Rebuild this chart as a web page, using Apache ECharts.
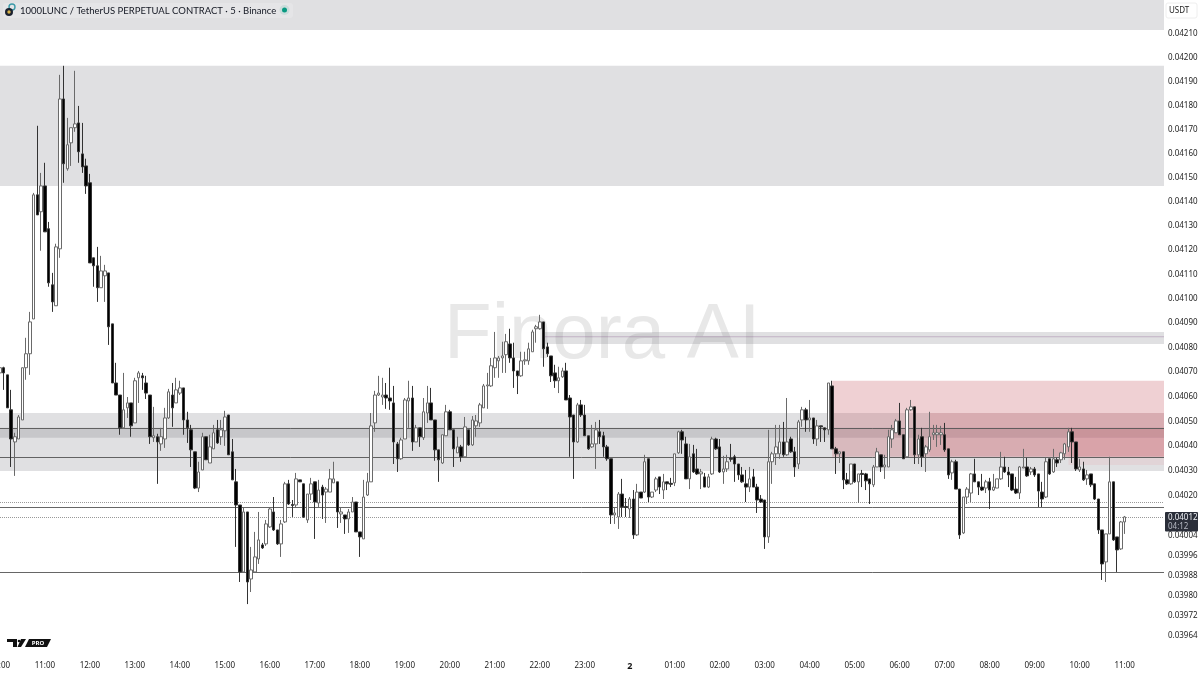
<!DOCTYPE html>
<html><head><meta charset="utf-8"><style>html,body{margin:0;background:#fff;overflow:hidden}#c{width:1200px;height:675px}</style>
<script src="https://cdn.jsdelivr.net/npm/echarts@6/dist/echarts.min.js"></script></head><body><div id="c"></div><script>
// Each candle: [open, close, low, high]
const h10=[[.040697,.040718,.040697,.040722],[.040718,.040697,.040628,.040722],[.040689,.040555,.040555,.040689],[.040547,.040429,.040316,.040628],[.040417,.040438,.040280,.040454],[.040429,.040518,.040429,.040526],[.040506,.040718,.040506,.040718],[.040718,.040775,.040669,.040840],[.040775,.040905,.040689,.040946],[.040917,.041428,.040917,.041436],[.041428,.041345,.041345,.041715],[.041358,.041465,.041197,.041519]];
const h11=[[.041465,.041275,.041275,.041561],[.041288,.041065,.041049,.041316],[.041057,.040987,.040946,.041106],[.040971,.041213,.040971,.041226],[.041205,.041827,.041168,.041928],[.041827,.041557,.041478,.041966],[.041536,.041636,.041528,.041748],[.041644,.041707,.041548,.041707],[.041707,.041723,.041690,.041945],[.041727,.041607,.041561,.041798],[.041598,.041544,.041519,.041727],[.041548,.041465,.041432,.041578]];
const h12=[[.041478,.041147,.041147,.041515],[.041168,.041135,.041049,.041168],[.041135,.041045,.040987,.041213],[.041045,.041114,.041045,.041176],[.041094,.041114,.040987,.041139],[.041106,.040885,.040811,.041106],[.040897,.040656,.040656,.040897],[.040656,.040607,.040607,.040738],[.040607,.040474,.040446,.040607],[.040474,.040547,.040470,.040697],[.040555,.040575,.040514,.040599],[.040575,.040482,.040438,.040575]];
const h13=[[.040494,.040665,.040494,.040677],[.040677,.040697,.040575,.040705],[.040685,.040677,.040628,.040697],[.040656,.040615,.040591,.040685],[.040607,.040438,.040409,.040607],[.040434,.040442,.040417,.040559],[.040438,.040417,.040248,.040450],[.040409,.040438,.040381,.040474],[.040429,.040514,.040393,.040555],[.040514,.040620,.040510,.040632],[.040607,.040555,.040478,.040656],[.040575,.040628,.040575,.040677]];
const h14=[[.040615,.040636,.040607,.040665],[.040636,.040506,.040446,.040636],[.040506,.040474,.040413,.040539],[.040466,.040385,.040316,.040486],[.040377,.040231,.040227,.040377],[.040231,.040296,.040215,.040337],[.040304,.040438,.040304,.040454],[.040438,.040345,.040345,.040438],[.040332,.040397,.040332,.040446],[.040389,.040454,.040389,.040486],[.040466,.040413,.040409,.040506],[.040438,.040466,.040405,.040506]];
const h15=[[.040462,.040518,.040401,.040543],[.040526,.040365,.040365,.040526],[.040377,.040264,.040264,.040429],[.040256,.040163,.039995,.040308],[.040163,.039895,.039855,.040163],[.039895,.040135,.039895,.040151],[.040135,.039855,.039767,.040135],[.039867,.039903,.039815,.039995],[.039895,.039955,.039895,.040055],[.039947,.040023,.039927,.040135],[.040003,.039991,.039987,.040011],[.040007,.040087,.039999,.040103]];
const h16=[[.040075,.040147,.040071,.040151],[.040135,.040063,.040059,.040195],[.040063,.040007,.040003,.040063],[.040007,.040087,.039955,.040103],[.040095,.040248,.040091,.040256],[.040248,.040167,.040163,.040264],[.040165,.040161,.040115,.040183],[.040163,.040268,.040155,.040292],[.040264,.040256,.040256,.040264],[.040248,.040115,.040111,.040248],[.040103,.040207,.040091,.040207],[.040207,.040248,.040183,.040272]];
const h17=[[.040256,.040175,.040027,.040256],[.040171,.040223,.040155,.040264],[.040235,.040203,.040107,.040244],[.040215,.040227,.040091,.040235],[.040215,.040268,.040215,.040308],[.040252,.040268,.040252,.040337],[.040256,.040135,.040071,.040256],[.040127,.040135,.040091,.040155],[.040123,.040107,.040047,.040123],[.040107,.040135,.040051,.040147],[.040135,.040175,.040135,.040195],[.040175,.040055,.040055,.040175]];
const h18=[[.040055,.040035,.039955,.040055],[.040027,.040195,.040027,.040264],[.040203,.040256,.040199,.040292],[.040256,.040482,.040256,.040534],[.040494,.040607,.040458,.040624],[.040607,.040615,.040603,.040685],[.040599,.040607,.040567,.040677],[.040607,.040595,.040551,.040656],[.040595,.040583,.040547,.040718],[.040575,.040417,.040328,.040644],[.040409,.040349,.040296,.040417],[.040349,.040425,.040345,.040434]];
const h19=[[.040429,.040587,.040429,.040595],[.040583,.040595,.040474,.040665],[.040595,.040417,.040381,.040644],[.040417,.040474,.040417,.040486],[.040474,.040438,.040397,.040474],[.040434,.040539,.040425,.040595],[.040534,.040575,.040494,.040644],[.040575,.040506,.040506,.040636],[.040506,.040385,.040341,.040506],[.040385,.040345,.040256,.040385],[.040332,.040446,.040328,.040446],[.040442,.040539,.040442,.040567]];
const h20=[[.040539,.040466,.040466,.040547],[.040466,.040389,.040316,.040466],[.040373,.040397,.040373,.040438],[.040397,.040357,.040337,.040405],[.040357,.040478,.040357,.040518],[.040466,.040405,.040401,.040466],[.040405,.040506,.040401,.040522],[.040482,.040502,.040438,.040526],[.040494,.040567,.040478,.040575],[.040555,.040644,.040555,.040652],[.040644,.040648,.040551,.040697],[.040644,.040726,.040640,.040758]];
const h21=[[.040718,.040758,.040677,.040864],[.040746,.040758,.040677,.040766],[.040758,.040766,.040697,.040824],[.040771,.040824,.040697,.040856],[.040815,.040758,.040738,.040877],[.040758,.040705,.040636,.040820],[.040705,.040685,.040611,.040705],[.040685,.040746,.040681,.040783],[.040746,.040750,.040730,.040783],[.040746,.040795,.040730,.040820],[.040783,.040864,.040783,.040873],[.040877,.040885,.040820,.040893]];
const h22=[[.040877,.040905,.040873,.040934],[.040905,.040795,.040722,.040905],[.040803,.040775,.040762,.040820],[.040766,.040685,.040660,.040766],[.040697,.040665,.040636,.040730],[.040665,.040677,.040615,.040722],[.040681,.040705,.040677,.040718],[.040705,.040587,.040587,.040738],[.040595,.040518,.040357,.040607],[.040526,.040417,.040268,.040526],[.040417,.040567,.040413,.040575],[.040567,.040526,.040518,.040587]];
const h23=[[.040526,.040442,.040442,.040567],[.040442,.040389,.040385,.040442],[.040397,.040409,.040393,.040486],[.040409,.040466,.040308,.040498],[.040458,.040438,.040409,.040506],[.040442,.040397,.040357,.040458],[.040397,.040349,.040341,.040405],[.040349,.040123,.040087,.040349],[.040123,.040131,.040087,.040155],[.040115,.040207,.040067,.040215],[.040207,.040155,.040115,.040268],[.040157,.040153,.040115,.040191]];
const h00=[[.040147,.040187,.040111,.040195],[.040187,.040043,.040027,.040223],[.040043,.040215,.040039,.040248],[.040215,.040191,.040191,.040215],[.040215,.040337,.040211,.040365],[.040349,.040195,.040175,.040349],[.040195,.040215,.040191,.040215],[.040223,.040268,.040215,.040276],[.040276,.040235,.040207,.040276],[.040223,.040256,.040187,.040288],[.040256,.040248,.040223,.040256],[.040250,.040246,.040235,.040272]];
const h01=[[.040252,.040369,.040239,.040369],[.040373,.040458,.040369,.040462],[.040458,.040425,.040369,.040466],[.040409,.040268,.040268,.040438],[.040268,.040357,.040227,.040409],[.040369,.040296,.040292,.040405],[.040308,.040288,.040284,.040389],[.040288,.040296,.040227,.040308],[.040276,.040235,.040235,.040292],[.040235,.040276,.040231,.040288],[.040288,.040429,.040284,.040438],[.040429,.040389,.040385,.040434]];
const h02=[[.040397,.040296,.040292,.040429],[.040296,.040308,.040248,.040361],[.040308,.040337,.040296,.040365],[.040351,.040347,.040337,.040409],[.040357,.040328,.040256,.040365],[.040328,.040284,.040264,.040328],[.040284,.040256,.040252,.040316],[.040248,.040235,.040175,.040304],[.040235,.040268,.040215,.040316],[.040276,.040235,.040235,.040308],[.040235,.040183,.040131,.040248],[.040187,.040175,.040171,.040203]];
const h03=[[.040183,.040035,.039987,.040183],[.040035,.040337,.040011,.040466],[.040337,.040369,.040248,.040377],[.040369,.040397,.040324,.040486],[.040369,.040417,.040349,.040486],[.040417,.040365,.040357,.040498],[.040365,.040417,.040361,.040595],[.040429,.040377,.040373,.040438],[.040377,.040316,.040276,.040397],[.040328,.040498,.040308,.040506],[.040506,.040547,.040478,.040559],[.040547,.040506,.040458,.040555]];
const h04=[[.040506,.040514,.040458,.040587],[.040514,.040429,.040409,.040514],[.040429,.040482,.040401,.040506],[.040482,.040478,.040417,.040482],[.040474,.040466,.040417,.040474],[.040466,.040656,.040446,.040656],[.040644,.040389,.040389,.040665],[.040389,.040369,.040288,.040397],[.040369,.040377,.040332,.040377],[.040377,.040264,.040227,.040377],[.040264,.040248,.040244,.040292],[.040248,.040328,.040244,.040328]];
const h05=[[.040328,.040256,.040252,.040328],[.040256,.040288,.040171,.040288],[.040290,.040286,.040235,.040304],[.040288,.040260,.040223,.040292],[.040268,.040248,.040167,.040268],[.040244,.040316,.040235,.040324],[.040316,.040377,.040316,.040393],[.040365,.040316,.040296,.040365],[.040316,.040324,.040268,.040365],[.040316,.040438,.040316,.040466],[.040429,.040466,.040393,.040486],[.040454,.040502,.040454,.040510]];
const h06=[[.040502,.040446,.040446,.040575],[.040446,.040349,.040349,.040446],[.040357,.040547,.040357,.040555],[.040547,.040559,.040543,.040587],[.040559,.040365,.040328,.040559],[.040365,.040429,.040328,.040446],[.040438,.040357,.040316,.040474],[.040369,.040397,.040296,.040405],[.040385,.040438,.040377,.040539],[.040446,.040454,.040425,.040486],[.040446,.040454,.040397,.040486],[.040446,.040454,.040405,.040482]];
const h07=[[.040446,.040385,.040377,.040494],[.040389,.040284,.040268,.040389],[.040292,.040337,.040264,.040345],[.040337,.040227,.040227,.040345],[.040227,.040043,.040027,.040227],[.040051,.040195,.040047,.040195],[.040195,.040227,.040167,.040235],[.040211,.040288,.040175,.040292],[.040288,.040256,.040256,.040349],[.040256,.040235,.040203,.040256],[.040235,.040223,.040219,.040288],[.040231,.040256,.040211,.040264]];
const h08=[[.040256,.040223,.040147,.040272],[.040223,.040235,.040219,.040288],[.040231,.040268,.040231,.040268],[.040268,.040316,.040264,.040377],[.040316,.040296,.040292,.040357],[.040296,.040284,.040235,.040316],[.040288,.040223,.040219,.040288],[.040227,.040211,.040207,.040276],[.040211,.040316,.040187,.040320],[.040312,.040316,.040312,.040389],[.040316,.040280,.040276,.040353],[.040296,.040308,.040284,.040316]];
const h09=[[.040308,.040284,.040276,.040316],[.040288,.040219,.040155,.040288],[.040215,.040187,.040155,.040256],[.040195,.040337,.040191,.040353],[.040349,.040288,.040284,.040349],[.040296,.040349,.040292,.040389],[.040345,.040332,.040316,.040353],[.040345,.040373,.040332,.040377],[.040369,.040409,.040345,.040413],[.040397,.040458,.040377,.040474],[.040458,.040417,.040332,.040474],[.040417,.040308,.040300,.040417]];
const h10b=[[.040304,.040316,.040296,.040349],[.040308,.040264,.040260,.040337],[.040268,.040284,.040244,.040304],[.040288,.040244,.040235,.040288],[.040248,.040187,.040183,.040248],[.040187,.040063,.040047,.040187],[.040063,.039927,.039863,.040063],[.039935,.040047,.039855,.040047],[.040047,.040256,.040047,.040357],[.040256,.040023,.040019,.040256],[.040035,.039983,.039895,.040035],[.039987,.040095,.039983,.040099]];
const h11b=[[.040095,.040115,.040047,.040119]];

const hourLabels=['10:00','11:00','12:00','13:00','14:00','15:00','16:00','17:00','18:00','19:00','20:00','21:00','22:00','23:00','2','01:00','02:00','03:00','04:00','05:00','06:00','07:00','08:00','09:00','10:00','11:00'];
const tickValues=[.0421,.042,.0419,.0418,.0417,.0416,.0415,.0414,.0413,.0412,.0411,.041,.0409,.0408,.0407,.0406,.0405,.0404,.0403,.0402,.04004,.03996,.03988,.0398,.03972,.03964];
const yMin=.039573, yMax=.042243;
const lastPrice='0.04012', countdown='04:12';

const candles=[h10,h11,h12,h13,h14,h15,h16,h17,h18,h19,h20,h21,h22,h23,h00,h01,h02,h03,h04,h05,h06,h07,h08,h09,h10b,h11b].flat();
const categories=[];
for(let i=0;i<311;i++) categories.push(i%12===0&&hourLabels[i/12]?hourLabels[i/12]:'');

const grey='rgba(125,127,133,.24)', greyRow='rgba(60,60,70,.15)';
const zones=[
 [{yAxis:yMax,itemStyle:{color:grey}},{yAxis:.042117}],
 [{yAxis:.041966,itemStyle:{color:grey}},{yAxis:.041465}],
 [{xAxis:145,yAxis:.040864,itemStyle:{color:grey}},{yAxis:.040815}],
 [{xAxis:145,yAxis:.040846,itemStyle:{color:'rgba(120,70,130,.3)'}},{yAxis:.040842}],
 [{yAxis:.040534,itemStyle:{color:grey}},{yAxis:.040300}],
 [{yAxis:.040474,itemStyle:{color:greyRow}},{yAxis:.040434}],
 [{xAxis:222,yAxis:.040665,itemStyle:{color:'rgba(191,67,79,.25)'}},{yAxis:.040357}],
 [{xAxis:248,yAxis:.040534,itemStyle:{color:'rgba(220,60,80,.1)'}},{yAxis:.040357}],
 [{xAxis:285,yAxis:.040474,itemStyle:{color:'rgba(242,60,70,.07)'}},{yAxis:.040324}]
];
const solidLevels=[.040474,.040355,.040155,.039895];
const dottedLevels=[.040175,.040115];

const mono='"Noto Sans",sans-serif';
const chart=echarts.init(document.getElementById('c'));
chart.setOption({
 animation:false,backgroundColor:'#fff',
 grid:{left:-2,right:36,top:0,bottom:22,outerBoundsMode:'none'},
 xAxis:{type:'category',data:categories,axisLine:{show:false},axisTick:{show:false},splitLine:{show:false},
  axisLabel:{interval:(i)=>i%12===0&&i<=300,margin:9,fontSize:8,fontFamily:mono,color:'#222',
   formatter:v=>v==='2'?'{b|2}':v,rich:{b:{fontWeight:'bold',fontSize:9,fontFamily:mono,color:'#111'}}}},
 yAxis:{type:'log',position:'right',min:yMin,max:yMax,splitLine:{show:false},axisLine:{show:false},axisTick:{show:false},
  axisLabel:{customValues:tickValues,formatter:v=>(+v).toFixed(5),fontSize:8,margin:4,align:'left',fontFamily:mono,color:'#222',padding:[0,0,3,0]}},
 series:[{type:'candlestick',data:candles,barWidth:3,z:3,
  itemStyle:{color:'#fff',color0:'#000',borderColor:'#6a6a6a',borderColor0:'#333',borderWidth:1},
  markArea:{silent:true,z:1,data:zones},
  markLine:{silent:true,z:2,symbol:'none',precision:6,label:{show:false},animation:false,
   data:[...solidLevels.map(v=>({yAxis:v,lineStyle:{color:'#555',width:1,type:'solid',opacity:.9}})),
         ...dottedLevels.map(v=>({yAxis:v,lineStyle:{color:'#999',width:1,type:'dotted'}}))]}
 }],
 graphic:[
  {type:'text',z:-1,style:{text:'Finora AI',x:444,y:336,font:'78px "Liberation Sans"',fill:'#e8e8e8',verticalAlign:'middle'}},
  {type:'rect',z:100,shape:{x:3,y:3,width:290,height:15,r:3},style:{fill:'rgba(255,255,255,.18)'}},
  {type:'circle',z:101,shape:{cx:12,cy:7,r:3},style:{fill:'none',stroke:'#3d9aa8',lineWidth:1.4}},
  {type:'circle',z:101,shape:{cx:9,cy:12,r:4},style:{fill:'#1c2230'}},
  {type:'circle',z:102,shape:{cx:9,cy:12,r:1.7},style:{fill:'#d9b44a'}},
  {type:'text',z:101,style:{text:'1000LUNC / TetherUS PERPETUAL CONTRACT · 5 · Binance',x:20,y:10.5,font:'9.5px Lato',fill:'#131722',verticalAlign:'middle'}},
  {type:'circle',z:101,shape:{cx:284.5,cy:10,r:5},style:{fill:'rgba(8,153,129,.12)'}},
  {type:'circle',z:102,shape:{cx:284.5,cy:10,r:2.5},style:{fill:'#089981'}},
  {type:'rect',z:101,shape:{x:1166,y:3,width:31,height:15,r:2},style:{fill:'#fff',stroke:'#eeeeee'}},
  {type:'text',z:102,style:{text:'USDT',x:1169,y:10.5,font:'8px "Noto Sans"',fill:'#222',verticalAlign:'middle'}},
  {type:'rect',z:101,shape:{x:1165,y:512,width:33,height:19.5,r:1},style:{fill:'#2a2e39'}},
  {type:'text',z:102,style:{text:lastPrice,x:1168,y:518,font:'8px "Noto Sans"',fill:'#eef0f4',verticalAlign:'middle'}},
  {type:'text',z:102,style:{text:countdown,x:1168,y:527,font:'8px "Noto Sans"',fill:'#b5b8c2',verticalAlign:'middle'}},
  {type:'polygon',z:101,shape:{points:[[7,639],[17,639],[17,647],[13,647],[13,642],[7,642]]},style:{fill:'#111'}},
  {type:'polygon',z:101,shape:{points:[[21,639],[26,639],[21,647],[17.5,647]]},style:{fill:'#111'}},
  {type:'circle',z:101,shape:{cx:19,cy:641,r:1.3},style:{fill:'#111'}},
  {type:'polygon',z:101,shape:{points:[[29,639],[51,639],[47,647],[25,647]]},style:{fill:'#111'}},
  {type:'text',z:102,style:{text:'PRO',x:38,y:643,font:'bold 6px "Noto Sans"',fill:'#fff',align:'center',verticalAlign:'middle'}}
 ]
});
</script></body></html>
